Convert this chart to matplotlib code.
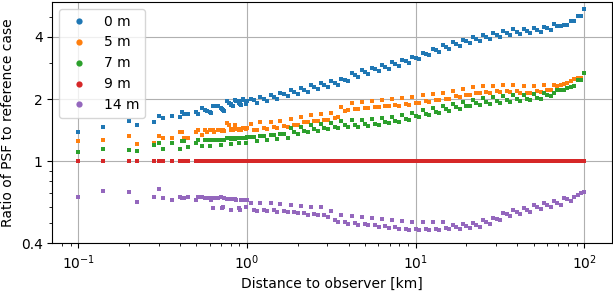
import matplotlib
matplotlib.use("Agg")
import matplotlib.pyplot as plt
from matplotlib.ticker import NullFormatter, FixedLocator, FixedFormatter
from matplotlib.lines import Line2D

# ---- data ----
distance_near_km = [0.1, 0.141, 0.2, 0.224, 0.283, 0.3, 0.316, 0.361, 0.4, 0.412,
                    0.424, 0.447, 0.5, 0.51, 0.539, 0.566, 0.583, 0.6, 0.608, 0.632,
                    0.64, 0.671, 0.7, 0.707, 0.721, 0.728, 0.762, 0.781, 0.8, 0.806,
                    0.825, 0.849, 0.854, 0.86, 0.894, 0.9, 0.906, 0.922, 0.943, 0.949,
                    0.985, 0.99, 1.0]
distance_far_km = [1.05, 1.10, 1.15, 1.20, 1.26, 1.32, 1.38, 1.45, 1.51, 1.58,
                   1.66, 1.74, 1.82, 1.91, 2.00, 2.09, 2.19, 2.29, 2.40, 2.51,
                   2.63, 2.75, 2.88, 3.02, 3.16, 3.31, 3.47, 3.63, 3.80, 3.98,
                   4.17, 4.37, 4.57, 4.79, 5.01, 5.25, 5.50, 5.75, 6.03, 6.31,
                   6.61, 6.92, 7.24, 7.59, 7.94, 8.32, 8.71, 9.12, 9.55, 10.0,
                   10.5, 11.0, 11.5, 12.0, 12.6, 13.2, 13.8, 14.5, 15.1, 15.8,
                   16.6, 17.4, 18.2, 19.1, 20.0, 20.9, 21.9, 22.9, 24.0, 25.1,
                   26.3, 27.5, 28.8, 30.2, 31.6, 33.1, 34.7, 36.3, 38.0, 39.8,
                   41.7, 43.7, 45.7, 47.9, 50.1, 52.5, 55.0, 57.5, 60.3, 63.1,
                   66.1, 69.2, 72.4, 75.9, 79.4, 83.2, 87.1, 91.2, 95.5, 100.0]

ratio_0m_near = [1.38, 1.46, 1.56, 1.49, 1.54, 1.65, 1.61, 1.65, 1.63, 1.73,
                 1.70, 1.69, 1.73, 1.70, 1.80, 1.77, 1.75, 1.73, 1.72, 1.85,
                 1.85, 1.85, 1.80, 1.78, 1.76, 1.75, 1.96, 1.92, 1.90, 1.88,
                 1.86, 1.98, 1.97, 1.95, 1.92, 1.95, 1.90, 1.88, 2.00, 1.97,
                 1.90, 1.93, 1.95]
ratio_0m_far = [2.01, 1.97, 1.92, 2.05, 2.01, 1.96, 2.10, 2.05, 2.01, 2.15,
                2.11, 2.07, 2.21, 2.17, 2.11, 2.27, 2.22, 2.17, 2.33, 2.28,
                2.23, 2.39, 2.33, 2.28, 2.44, 2.39, 2.34, 2.50, 2.48, 2.45,
                2.66, 2.61, 2.56, 2.75, 2.70, 2.65, 2.84, 2.78, 2.73, 2.93,
                2.86, 2.80, 3.01, 2.95, 2.89, 3.10, 3.04, 2.98, 3.20, 3.16,
                3.11, 3.35, 3.30, 3.25, 3.49, 3.44, 3.39, 3.65, 3.58, 3.51,
                3.76, 3.69, 3.62, 3.88, 3.81, 3.73, 4.00, 3.92, 3.83, 4.10,
                4.01, 3.92, 4.18, 4.09, 4.00, 4.27, 4.17, 4.07, 4.35, 4.23,
                4.12, 4.39, 4.28, 4.17, 4.44, 4.33, 4.21, 4.49, 4.40, 4.31,
                4.61, 4.51, 4.53, 4.55, 4.58, 4.75, 4.75, 5.06, 5.06, 5.47]

ratio_5m_near = [1.25, 1.27, 1.32, 1.21, 1.23, 1.32, 1.30, 1.30, 1.39, 1.39,
                 1.30, 1.30, 1.38, 1.41, 1.34, 1.41, 1.39, 1.41, 1.42, 1.41,
                 1.39, 1.41, 1.42, 1.40, 1.41, 1.40, 1.53, 1.50, 1.43, 1.42,
                 1.41, 1.50, 1.44, 1.43, 1.42, 1.41, 1.43, 1.42, 1.45, 1.44,
                 1.44, 1.43, 1.44]
ratio_5m_far = [1.52, 1.42, 1.41, 1.54, 1.44, 1.43, 1.55, 1.46, 1.45, 1.57,
                1.48, 1.47, 1.60, 1.50, 1.50, 1.63, 1.54, 1.55, 1.67, 1.57,
                1.57, 1.70, 1.59, 1.59, 1.72, 1.61, 1.64, 1.82, 1.74, 1.76,
                1.92, 1.79, 1.78, 1.93, 1.81, 1.80, 1.95, 1.83, 1.82, 1.97,
                1.85, 1.84, 2.00, 1.87, 1.86, 2.02, 1.89, 1.88, 2.05, 1.92,
                1.91, 2.08, 1.95, 1.94, 2.11, 1.98, 1.97, 2.14, 2.01, 2.01,
                2.18, 2.06, 2.05, 2.24, 2.10, 2.10, 2.28, 2.15, 2.13, 2.31,
                2.16, 2.15, 2.32, 2.18, 2.16, 2.34, 2.19, 2.17, 2.33, 2.18,
                2.15, 2.31, 2.15, 2.14, 2.32, 2.18, 2.16, 2.34, 2.21, 2.21,
                2.34, 2.30, 2.33, 2.36, 2.40, 2.45, 2.51, 2.52, 2.52, 2.67]

ratio_7m_near = [1.11, 1.15, 1.13, 1.12, 1.20, 1.23, 1.15, 1.22, 1.15, 1.25,
                 1.25, 1.17, 1.23, 1.26, 1.18, 1.26, 1.26, 1.18, 1.27, 1.27,
                 1.27, 1.27, 1.20, 1.27, 1.27, 1.26, 1.30, 1.29, 1.21, 1.28,
                 1.29, 1.28, 1.29, 1.29, 1.22, 1.30, 1.29, 1.29, 1.30, 1.30,
                 1.22, 1.30, 1.31]
ratio_7m_far = [1.31, 1.31, 1.25, 1.32, 1.33, 1.26, 1.34, 1.34, 1.28, 1.35,
                1.36, 1.30, 1.45, 1.38, 1.36, 1.47, 1.40, 1.38, 1.49, 1.43,
                1.40, 1.51, 1.45, 1.43, 1.53, 1.47, 1.45, 1.56, 1.49, 1.46,
                1.58, 1.50, 1.47, 1.59, 1.51, 1.48, 1.60, 1.52, 1.50, 1.62,
                1.55, 1.53, 1.64, 1.57, 1.55, 1.67, 1.60, 1.59, 1.72, 1.65,
                1.64, 1.76, 1.69, 1.68, 1.81, 1.73, 1.72, 1.85, 1.78, 1.75,
                1.90, 1.82, 1.79, 1.94, 1.86, 1.84, 1.98, 1.91, 1.88, 2.02,
                1.93, 1.90, 2.05, 1.95, 1.92, 2.07, 1.97, 1.94, 2.08, 1.99,
                1.95, 2.10, 2.01, 1.97, 2.12, 2.03, 2.00, 2.15, 2.08, 2.07,
                2.15, 2.21, 2.21, 2.21, 2.26, 2.28, 2.30, 2.47, 2.47, 2.67]

ratio_14m_near = [0.667, 0.72, 0.71, 0.637, 0.667, 0.73, 0.66, 0.645, 0.674, 0.66,
                  0.665, 0.667, 0.645, 0.667, 0.674, 0.66, 0.66, 0.66, 0.65, 0.596,
                  0.66, 0.66, 0.667, 0.596, 0.60, 0.66, 0.655, 0.655, 0.583, 0.655,
                  0.655, 0.655, 0.655, 0.65, 0.59, 0.59, 0.583, 0.65, 0.65, 0.648,
                  0.648, 0.60, 0.645]
ratio_14m_far = [0.630, 0.582, 0.575, 0.627, 0.580, 0.573, 0.624, 0.578, 0.570, 0.620,
                 0.572, 0.564, 0.613, 0.566, 0.558, 0.607, 0.560, 0.551, 0.600, 0.555,
                 0.548, 0.597, 0.547, 0.535, 0.572, 0.520, 0.507, 0.548, 0.505, 0.498,
                 0.542, 0.500, 0.493, 0.536, 0.494, 0.488, 0.530, 0.489, 0.482, 0.524,
                 0.483, 0.476, 0.517, 0.477, 0.470, 0.511, 0.470, 0.463, 0.505, 0.468,
                 0.463, 0.507, 0.469, 0.464, 0.508, 0.470, 0.466, 0.509, 0.473, 0.470,
                 0.491, 0.479, 0.467, 0.497, 0.485, 0.472, 0.503, 0.489, 0.480, 0.516,
                 0.508, 0.498, 0.533, 0.526, 0.519, 0.560, 0.553, 0.544, 0.582, 0.570,
                 0.557, 0.596, 0.583, 0.570, 0.612, 0.599, 0.587, 0.628, 0.615, 0.601,
                 0.643, 0.629, 0.615, 0.662, 0.652, 0.642, 0.671, 0.684, 0.697, 0.710]

distance_km = distance_near_km + distance_far_km
ratio_9m = [1.0] * len(distance_km)   # reference case: ratio is exactly 1

labels = ["0 m", "5 m", "7 m", "9 m", "14 m"]
series = [ratio_0m_near + ratio_0m_far,
          ratio_5m_near + ratio_5m_far,
          ratio_7m_near + ratio_7m_far,
          ratio_9m,
          ratio_14m_near + ratio_14m_far]
colors = ["#1f77b4", "#ff7f0e", "#2ca02c", "#d62728", "#9467bd"]

y_ticks = [0.4, 1, 2, 4]
y_ticklabels = ["0.4", "1", "2", "4"]

# ---- plot ----
fig = plt.figure(figsize=(6.13, 2.91), dpi=100)
ax = fig.add_axes([0.0856, 0.164, 0.912, 0.829])

for lab, y, c in zip(labels, series, colors):
    ax.plot(distance_km, y, linestyle="none", marker="s", markersize=2.25,
            markeredgewidth=0, color=c, label=lab)

ax.set_xscale("log")
ax.set_yscale("log")
ax.set_xlim(0.0703, 145)
ax.set_ylim(0.4, 5.9)
ax.yaxis.set_major_locator(FixedLocator(y_ticks))
ax.yaxis.set_major_formatter(FixedFormatter(y_ticklabels))
ax.yaxis.set_minor_formatter(NullFormatter())
ax.grid(True, which="major", color="#b0b0b0", linewidth=0.8)
ax.set_axisbelow(True)

ax.set_xlabel("Distance to observer [km]")
ax.set_ylabel("Ratio of PSF to reference case")

handles = [Line2D([], [], linestyle="none", marker="o", markersize=4.5,
                  markeredgewidth=0, color=c) for c in colors]
ax.legend(handles, labels, loc="upper left")

fig.savefig("out.png", dpi=100)
